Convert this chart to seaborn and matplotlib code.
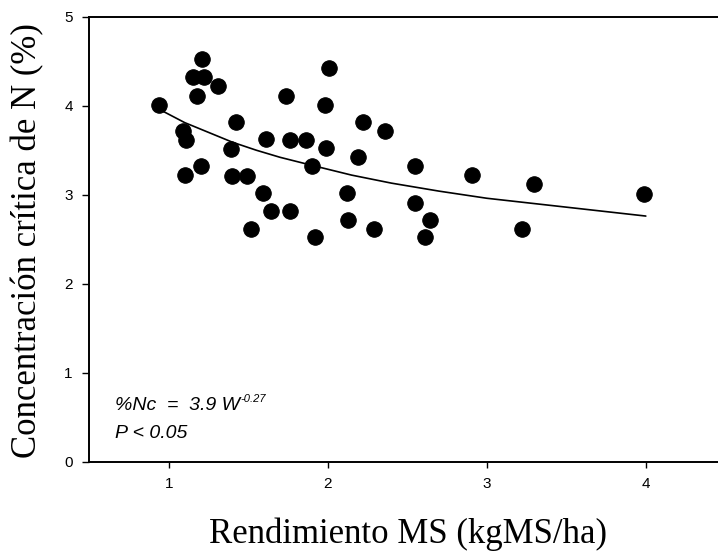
import matplotlib
matplotlib.use("Agg")
import matplotlib.pyplot as plt
import seaborn as sns
import pandas as pd

rendimiento = [0.94, 1.09, 1.11, 1.10, 1.20, 1.21, 1.15, 1.22, 1.18, 1.31,
               1.42, 1.39, 1.40, 1.49, 1.59, 1.64, 1.52, 1.61, 1.76, 1.86,
               1.74, 1.76, 2.01, 1.98, 1.99, 1.90, 1.92, 2.12, 2.13, 2.29,
               2.19, 2.22, 2.36, 2.55, 2.91, 3.30, 3.99, 2.55, 2.64, 2.61,
               3.22]
concentracion = [4.01, 3.72, 3.61, 3.22, 3.32, 4.53, 4.32, 4.32, 4.11, 4.22,
                 3.82, 3.51, 3.21, 3.21, 3.02, 2.82, 2.62, 3.63, 3.62, 3.62,
                 4.11, 2.82, 4.42, 4.01, 3.52, 3.32, 2.52, 3.02, 2.72, 2.62,
                 3.42, 3.82, 3.72, 3.32, 3.22, 3.12, 3.01, 2.91, 2.72, 2.52,
                 2.62]

# Fitted curve
curva_x = [0.95, 1.10, 1.25, 1.40, 1.55, 1.70, 1.90, 2.15, 2.40, 2.70,
           3.00, 3.30, 3.65, 4.00]
curva_y = [3.95, 3.81, 3.70, 3.59, 3.50, 3.42, 3.33, 3.22, 3.13, 3.04,
           2.96, 2.90, 2.83, 2.76]

y_ticks = [0, 1, 2, 3, 4, 5]
x_ticks = [1, 2, 3, 4]

pts = pd.DataFrame({"x": rendimiento, "y": concentracion})
fit = pd.DataFrame({"x": curva_x, "y": curva_y})

sns.set_theme(style="ticks")
plt.rcParams["font.family"] = ["Liberation Sans", "DejaVu Sans"]

W, H = 718, 552
fig = plt.figure(figsize=(W / 100, H / 100), dpi=100)
left, right, top, bottom = 89.3, 718, 16.7, 461.7
ax = fig.add_axes([left / W, 1 - bottom / H, (right - left) / W, (bottom - top) / H])

sns.lineplot(data=fit, x="x", y="y", ax=ax, color="black", linewidth=1.2,
             sort=True, estimator=None)
sns.scatterplot(data=pts, x="x", y="y", ax=ax, color="black", s=125,
                edgecolor="black", linewidth=0.7, zorder=3)

ax.set_xlim(0.5, 0.5 + (right - left) / 159.0)
ax.set_ylim(0, 5)
ax.set_xticks(x_ticks)
ax.set_yticks(y_ticks)
ax.set_xticklabels([str(t) for t in x_ticks])
ax.set_yticklabels([str(t) for t in y_ticks])

for side in ["left", "bottom", "top"]:
    ax.spines[side].set_visible(True)
    ax.spines[side].set_linewidth(1.4)
    ax.spines[side].set_color("black")
ax.spines["right"].set_visible(False)

ax.tick_params(axis="y", direction="out", length=5, width=1.0, pad=7,
               labelsize=11, colors="black")
ax.tick_params(axis="x", direction="out", length=4.5, width=1.0, pad=6.5,
               labelsize=11, colors="black")
for lab in ax.get_xticklabels() + ax.get_yticklabels():
    lab.set_family(["Liberation Sans Narrow", "Liberation Sans"])

ax.set_ylabel("Concentración crítica de N (%)", family="Liberation Serif",
              fontsize=25, color="black")
ax.set_xlabel("Rendimiento MS (kgMS/ha)", family="Liberation Serif",
              fontsize=25, color="black", va="baseline")
ax.yaxis.set_label_coords((44 - left) / (right - left), 0.496)
ax.xaxis.set_label_coords((408 - left) / (right - left), -(543 - bottom) / (bottom - top))

t1 = ax.text(0.662, 0.583, "%Nc  =  3.9 W", fontsize=14, fontstyle="italic",
             color="black", ha="left", va="baseline")
ax.annotate("-0.27", xy=(1, 0), xycoords=t1, xytext=(0.5, 8.5),
            textcoords="offset points", fontsize=8, fontstyle="italic",
            color="black", ha="left", va="baseline")
ax.text(0.662, 0.267, "P < 0.05", fontsize=14, fontstyle="italic",
        color="black", ha="left", va="baseline")

fig.savefig("out.png", dpi=100)
